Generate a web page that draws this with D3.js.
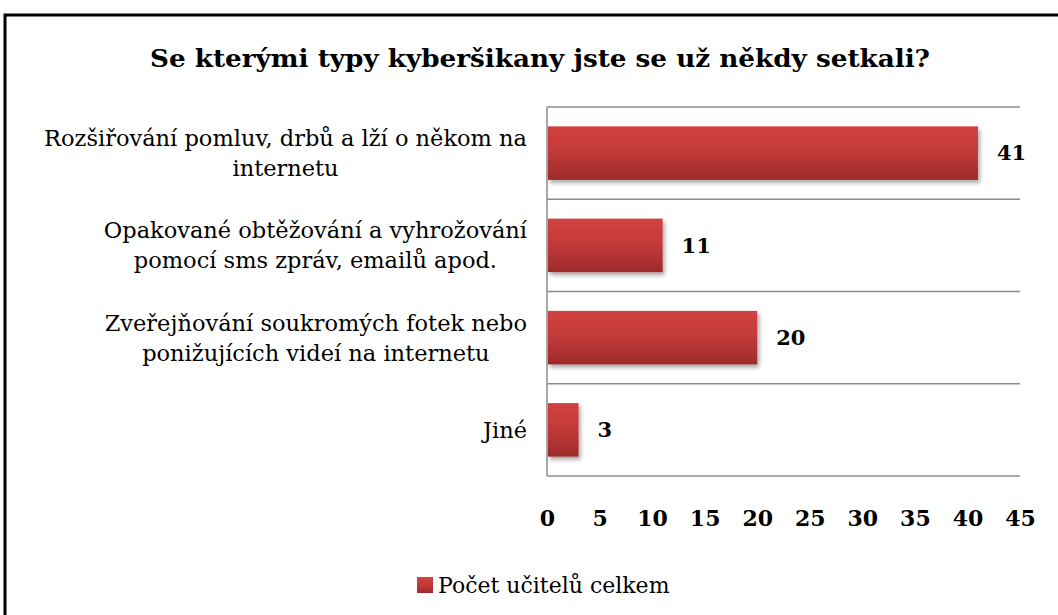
<!DOCTYPE html>
<html lang="cs">
<head>
  <meta charset="utf-8">
  <title>Se kterými typy kyberšikany jste se už někdy setkali?</title>
  <style>
    body { margin: 0; background: #fff; }
    svg { display: block; font-family: "DejaVu Serif", "Liberation Serif", serif; }
  </style>
</head>
<body>
  <script src="https://cdnjs.cloudflare.com/ajax/libs/d3/7.8.5/d3.min.js"></script>
  <script>
  // data
  const categories = [
    ["Rozšiřování pomluv, drbů a lží o někom na", "internetu"],
    ["Opakované obtěžování a vyhrožování", "pomocí sms zpráv, emailů apod."],
    ["Zveřejňování soukromých fotek nebo", "ponižujících videí na internetu"],
    ["Jiné"]
  ];
  const values = [41, 11, 20, 3];
  const xTicks = [0, 5, 10, 15, 20, 25, 30, 35, 40, 45];
  const seriesName = "Počet učitelů celkem";
  const title = "Se kterými typy kyberšikany jste se už někdy setkali?";

  const W = 1058, H = 615;
  const margin = { top: 107, right: 38, bottom: 139, left: 547 };
  const width = W - margin.left - margin.right,
        height = H - margin.top - margin.bottom;

  const svg = d3.select("body").append("svg")
    .attr("width", W)
    .attr("height", H);

  const defs = svg.append("defs");
  const grad = defs.append("linearGradient")
    .attr("id", "barGrad")
    .attr("x1", 0).attr("y1", 0).attr("x2", 0).attr("y2", 1);
  grad.append("stop").attr("offset", "0%").attr("stop-color", "#d24140");
  grad.append("stop").attr("offset", "45%").attr("stop-color", "#c43a39");
  grad.append("stop").attr("offset", "100%").attr("stop-color", "#9c2b2b");

  const shadow = defs.append("filter").attr("id", "shadow")
    .attr("x", "-10%").attr("y", "-20%").attr("width", "130%").attr("height", "160%");
  shadow.append("feDropShadow")
    .attr("dx", 2).attr("dy", 3).attr("stdDeviation", 2)
    .attr("flood-color", "#000").attr("flood-opacity", 0.35);

  // outer frame
  svg.append("rect")
    .attr("x", 5).attr("y", 15)
    .attr("width", W + 10).attr("height", H + 10)
    .attr("fill", "none")
    .attr("stroke", "#000")
    .attr("stroke-width", 3);

  svg.append("text")
    .attr("x", 540)
    .attr("y", 67)
    .attr("text-anchor", "middle")
    .style("font-family", "'DejaVu Serif', serif")
    .style("font-weight", "bold")
    .style("font-size", "25px")
    .attr("textLength", 780)
    .attr("lengthAdjust", "spacingAndGlyphs")
    .text(title);

  const g = svg.append("g")
    .attr("transform", `translate(${margin.left},${margin.top})`);

  const x = d3.scaleLinear().domain([0, 45]).range([0, width]);
  const y = d3.scaleBand()
    .domain(d3.range(categories.length))
    .range([0, height])
    .paddingInner(0.42)
    .paddingOuter(0.21);

  // grid lines between categories
  const bandStep = height / categories.length;
  g.selectAll(".grid")
    .data(d3.range(categories.length + 1))
    .enter()
    .append("line")
    .attr("class", "grid")
    .attr("x1", 0)
    .attr("x2", width)
    .attr("y1", d => d * bandStep)
    .attr("y2", d => d * bandStep)
    .attr("stroke", "#8c8c8c")
    .attr("stroke-width", 1.5);

  g.append("line")
    .attr("x1", 0).attr("x2", 0)
    .attr("y1", 0).attr("y2", height)
    .attr("stroke", "#8c8c8c")
    .attr("stroke-width", 1.5);

  // bars
  g.selectAll(".bar")
    .data(values)
    .enter()
    .append("rect")
    .attr("class", "bar")
    .attr("x", 1)
    .attr("y", (d, i) => y(i))
    .attr("width", d => x(d) - 1)
    .attr("height", y.bandwidth())
    .attr("fill", "url(#barGrad)")
    .attr("filter", "url(#shadow)");

  // value labels
  g.selectAll(".val")
    .data(values)
    .enter()
    .append("text")
    .attr("class", "val")
    .attr("x", d => x(d) + 19)
    .attr("y", (d, i) => y(i) + y.bandwidth() / 2)
    .attr("dy", "0.35em")
    .style("font-size", "21px")
    .style("font-weight", "bold")
    .text(d => d);

  // x axis labels
  const xAxis = d3.axisBottom(x)
    .tickValues(xTicks)
    .tickSize(0)
    .tickPadding(34);
  const xg = g.append("g")
    .attr("transform", `translate(0,${height})`)
    .call(xAxis);
  xg.select(".domain").remove();
  xg.selectAll("text")
    .style("font-family", "'DejaVu Serif', serif")
    .style("font-size", "22px")
    .style("font-weight", "bold")
    .attr("fill", "#000");

  // category labels (centred lines, block right aligned)
  const labelRight = -20;
  const lineH = 30;
  categories.forEach((lines, i) => {
    const cy = (i + 0.5) * bandStep;
    const lg = g.append("g");
    const texts = lg.selectAll("text")
      .data(lines)
      .enter()
      .append("text")
      .attr("y", (d, j) => cy + (j - (lines.length - 1) / 2) * lineH)
      .attr("dy", "0.35em")
      .attr("text-anchor", "middle")
      .style("font-size", "22.5px")
      .text(d => d);
    const maxW = d3.max(texts.nodes(), n => n.getComputedTextLength());
    texts.attr("x", labelRight - maxW / 2);
  });

  // legend
  const legend = svg.append("g")
    .attr("transform", "translate(417,577)");
  legend.append("rect")
    .attr("width", 16)
    .attr("height", 16)
    .attr("fill", "url(#barGrad)");
  legend.append("text")
    .attr("x", 21)
    .attr("y", 8)
    .attr("dy", "0.35em")
    .style("font-size", "22px")
    .text(seriesName);
  </script>
</body>
</html>
